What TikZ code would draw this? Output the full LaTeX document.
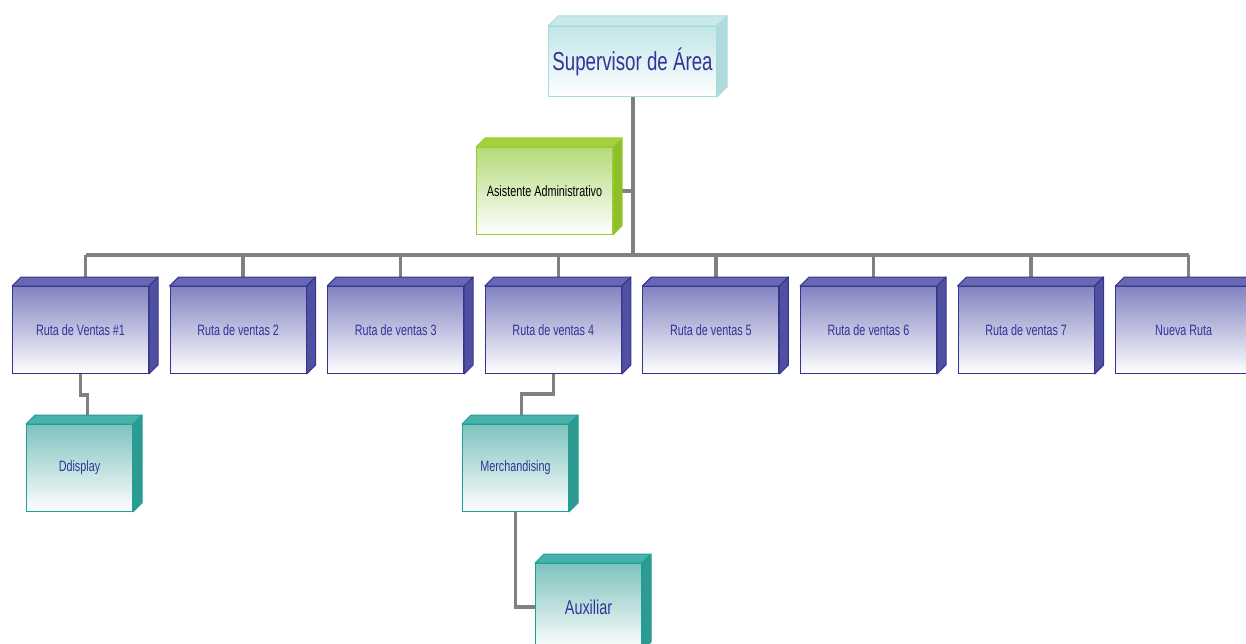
\documentclass[tikz,border=0pt]{standalone}
\usepackage{fontspec}
\setmainfont[FakeStretch=0.72]{Liberation Sans}
\usetikzlibrary{backgrounds,calc}

\definecolor{azul}{HTML}{333399}
\definecolor{gris}{HTML}{808080}
\definecolor{rutaBorde}{HTML}{35358F}
\definecolor{rutaFrente}{HTML}{8383C2}
\definecolor{rutaTapa}{HTML}{6767B2}
\definecolor{rutaLado}{HTML}{5050A0}
\definecolor{tealBorde}{HTML}{1F9F97}
\definecolor{tealFrente}{HTML}{7EC3BE}
\definecolor{tealTapa}{HTML}{48B1AA}
\definecolor{tealLado}{HTML}{2E9A92}
\definecolor{supBorde}{HTML}{A6DCDF}
\definecolor{supFrente}{HTML}{C2E5E8}
\definecolor{supTapa}{HTML}{C8E8EA}
\definecolor{supLado}{HTML}{B0DADD}
\definecolor{asisBorde}{HTML}{99CC33}
\definecolor{asisFrente}{HTML}{B5DA7A}
\definecolor{asisTapa}{HTML}{A6D13F}
\definecolor{asisLado}{HTML}{8FBF2A}

\tikzset{
  caja/.style={draw, line width=1pt, anchor=north west, align=center, inner sep=2pt},
  ruta/.style={caja, draw=rutaBorde, top color=rutaFrente, bottom color=white,
    minimum width=136pt, minimum height=87pt, text=azul, font=\fontsize{15}{18}\selectfont},
  tealcaja/.style={caja, draw=tealBorde, top color=tealFrente, bottom color=white,
    minimum width=106pt, minimum height=87pt, text=azul, font=\fontsize{15}{18}\selectfont},
  supcaja/.style={caja, draw=supBorde, top color=supFrente, bottom color=white,
    minimum width=168pt, minimum height=70pt, text=azul, font=\fontsize{26}{30}\selectfont},
  asiscaja/.style={caja, draw=asisBorde, top color=asisFrente, bottom color=white,
    minimum width=136pt, minimum height=87pt, text=black, font=\fontsize{15}{18}\selectfont},
  linea/.style={draw=gris, line width=3.5pt}
}

% caras superior y lateral: nodo, tapa, lado, borde, fondo
\newcommand\caras[5]{%
  \filldraw[fill=#2, draw=#4, line width=1pt, line join=round]
    (#1.north west) -- ++(#5,#5) -- ($(#1.north east)+(#5,#5)$) -- (#1.north east) -- cycle;
  \filldraw[fill=#3, draw=#4, line width=1pt, line join=round]
    (#1.north east) -- ++(#5,#5) -- ($(#1.south east)+(#5,#5)$) -- (#1.south east) -- cycle;
}

\begin{document}
\begin{tikzpicture}[x=1pt,y=-1pt]
 \useasboundingbox (0,0) rectangle (1246,644);
 % jefe y asistente
 \node[supcaja] (sup) at (548,26) {Supervisor de Área};
 \caras{sup}{supTapa}{supLado}{supBorde}{10pt}
 \node[asiscaja, minimum width=136pt] (asis) at (476,147) {Asistente Administrativo};
 \caras{asis}{asisTapa}{asisLado}{asisBorde}{9pt}
 % rutas
 \foreach \i/\t in {1/Ruta de Ventas \#1, 2/Ruta de ventas 2, 3/Ruta de ventas 3,
   4/Ruta de ventas 4, 5/Ruta de ventas 5, 6/Ruta de ventas 6,
   7/Ruta de ventas 7, 8/Nueva Ruta}{
  \node[ruta] (r\i) at ({12+(\i-1)*157.6},286) {\t};
  \caras{r\i}{rutaTapa}{rutaLado}{rutaBorde}{9pt}
  \coordinate (t\i) at ($(r\i.north)+(5pt,0)$);
 }
 % debajo de las rutas
 \node[tealcaja] (dd) at (26,424) {Ddisplay};
 \caras{dd}{tealTapa}{tealLado}{tealBorde}{9pt}
 \node[tealcaja] (me) at (462,424) {Merchandising};
 \caras{me}{tealTapa}{tealLado}{tealBorde}{9pt}
 \node[tealcaja, font=\fontsize{20}{24}\selectfont] (aux) at (535,563) {Auxiliar};
 \caras{aux}{tealTapa}{tealLado}{tealBorde}{9pt}
 \coordinate (barra) at (0,255);
 % conectores
 \begin{scope}[on background layer]
  \draw[linea, line width=4pt] (sup.south) -- (sup.south |- barra);
  \draw[linea] (asis.east) -- (asis.east -| sup.south);
  \draw[linea] (t1 |- barra) -- (t8 |- barra);
  \foreach \i in {1,...,8}
   \draw[linea] (t\i |- barra) -- (t\i);
  \draw[linea] (r1.south) -- ++(0,21) -| ($(dd.north)+(8pt,0)$);
  \draw[linea] (r4.south) -- ++(0,20) -| ($(me.north)+(6pt,0)$);
  \draw[linea] (me.south) |- (aux.west);
 \end{scope}
\end{tikzpicture}
\end{document}
